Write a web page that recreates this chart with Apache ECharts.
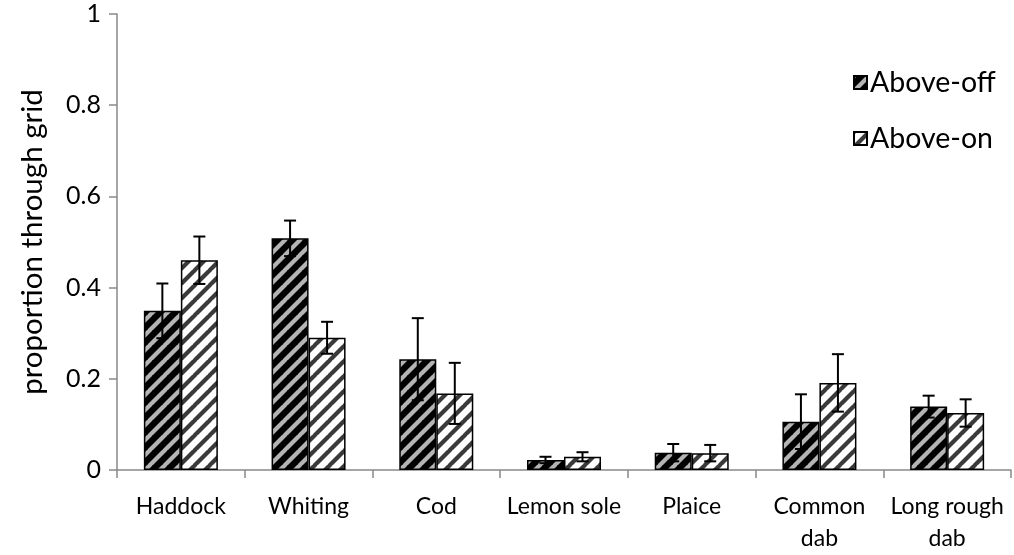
<!DOCTYPE html>
<html>
<head>
<meta charset="utf-8">
<script src="https://cdn.jsdelivr.net/npm/echarts@6/dist/echarts.min.js"></script>
<style>
  html, body { margin: 0; padding: 0; background: #fff; }
  #chart { width: 1014px; height: 555px; }
</style>
</head>
<body>
<div id="chart"></div>
<script>
// Species and the proportion of fish passing through the grid
const categories = ['Haddock', 'Whiting', 'Cod', 'Lemon sole', 'Plaice', 'Common\ndab', 'Long rough\ndab'];
const seriesNames = ['Above-off', 'Above-on'];
const aboveOff = [0.349, 0.508, 0.243, 0.022, 0.038, 0.106, 0.139];
const aboveOffErr = [0.060, 0.039, 0.090, 0.007, 0.019, 0.060, 0.024];
const aboveOn = [0.460, 0.290, 0.168, 0.029, 0.037, 0.191, 0.125];
const aboveOnErr = [0.052, 0.035, 0.067, 0.010, 0.018, 0.063, 0.030];
const yTicks = [0, 0.2, 0.4, 0.6, 0.8, 1];

const FONT = 'Lato';
const BAR_W = 37;

// Diagonal hatch tile used as a repeating fill
function hatch(bg, fg, lw) {
  const s = 15;
  const c = document.createElement('canvas');
  c.width = s; c.height = s;
  const g = c.getContext('2d');
  g.fillStyle = bg;
  g.fillRect(0, 0, s, s);
  g.strokeStyle = fg;
  g.lineWidth = lw;
  for (const o of [-s, 0, s]) {
    g.beginPath();
    g.moveTo(o - 1, s + 1);
    g.lineTo(o + s + 1, -1);
    g.stroke();
  }
  return { image: c, repeat: 'repeat' };
}

const offFill = hatch('#000000', '#b4b4b4', 4.2);
const onFill = hatch('#ffffff', '#3a3a3a', 4.2);

// Error whiskers, placed at the centre of each bar of a pair
function errorSeries(values, errs, side) {
  return {
    type: 'custom',
    z: 5,
    silent: true,
    data: values.map((v, i) => [i, v, errs[i]]),
    renderItem: function (params, api) {
      const i = api.value(0), v = api.value(1), e = api.value(2);
      const dx = side * BAR_W / 2;
      const top = api.coord([i, v + e]);
      const bot = api.coord([i, Math.max(0, v - e)]);
      const x = top[0] + dx;
      const cap = 6;
      const st = { stroke: '#000', lineWidth: 2 };
      return {
        type: 'group',
        children: [
          { type: 'line', shape: { x1: x, y1: top[1], x2: x, y2: bot[1] }, style: st },
          { type: 'line', shape: { x1: x - cap, y1: top[1], x2: x + cap, y2: top[1] }, style: st },
          { type: 'line', shape: { x1: x - cap, y1: bot[1], x2: x + cap, y2: bot[1] }, style: st }
        ]
      };
    }
  };
}

const chart = echarts.init(document.getElementById('chart'), null, { renderer: 'canvas' });
chart.setOption({
  animation: false,
  backgroundColor: '#ffffff',
  grid: { left: 117, right: 3, top: 14, bottom: 84 },
  legend: {
    data: seriesNames,
    orient: 'vertical',
    left: 853,
    top: 68,
    padding: 0,
    itemWidth: 13,
    itemHeight: 13,
    itemGap: 27,
    icon: 'rect',
    textStyle: { fontFamily: FONT, fontSize: 28.5, color: '#000', padding: [0, 0, 0, -2] }
  },
  xAxis: {
    type: 'category',
    data: categories,
    axisLine: { lineStyle: { color: '#898989', width: 1.5 } },
    axisTick: { show: true, length: 8, lineStyle: { color: '#898989', width: 1.5 } },
    axisLabel: { fontFamily: FONT, fontSize: 23, color: '#000', margin: 21, lineHeight: 32, interval: 0 }
  },
  yAxis: {
    type: 'value',
    min: 0,
    max: 1,
    interval: 0.2,
    name: 'proportion through grid',
    nameLocation: 'middle',
    nameGap: 70,
    nameTextStyle: { fontFamily: FONT, fontSize: 29.5, color: '#000' },
    axisLine: { show: true, lineStyle: { color: '#898989', width: 1.5 } },
    axisTick: { show: true, length: 8, lineStyle: { color: '#898989', width: 1.5 } },
    splitLine: { show: false },
    axisLabel: {
      fontFamily: FONT, fontSize: 25, color: '#000', margin: 16,
      formatter: v => String(yTicks.find(t => Math.abs(t - v) < 1e-9) ?? v)
    }
  },
  series: [
    {
      name: seriesNames[0],
      type: 'bar',
      data: aboveOff,
      barWidth: BAR_W,
      barGap: '0%',
      itemStyle: { color: offFill, borderColor: '#000', borderWidth: 1.5 }
    },
    {
      name: seriesNames[1],
      type: 'bar',
      data: aboveOn,
      barWidth: BAR_W,
      barGap: '0%',
      itemStyle: { color: onFill, borderColor: '#000', borderWidth: 1.5 }
    },
    errorSeries(aboveOff, aboveOffErr, -1),
    errorSeries(aboveOn, aboveOnErr, 1)
  ]
});
</script>
</body>
</html>
